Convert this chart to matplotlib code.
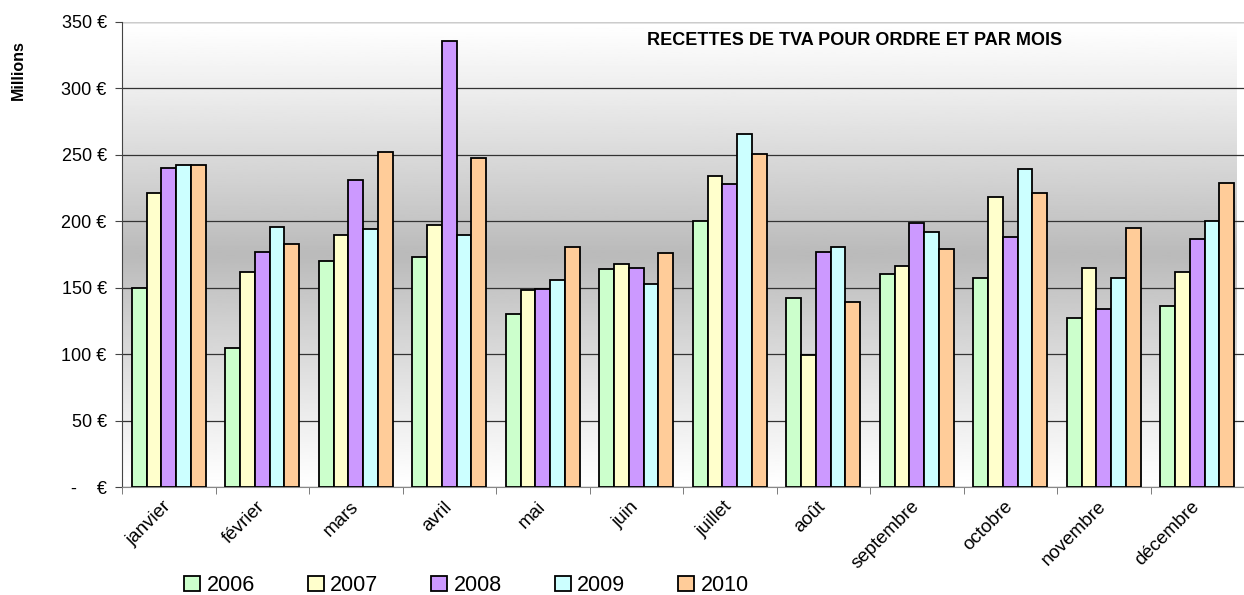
import numpy as np
import matplotlib
matplotlib.use('Agg')
import matplotlib.pyplot as plt
from matplotlib.patches import Patch
from matplotlib.transforms import ScaledTranslation

plt.rc('font', family=['Liberation Sans', 'DejaVu Sans'])

mois = ['janvier', 'février', 'mars', 'avril', 'mai', 'juin', 'juillet',
        'août', 'septembre', 'octobre', 'novembre', 'décembre']
annees = ['2006', '2007', '2008', '2009', '2010']

# millions d'euros
v2006 = [150, 105, 170, 173, 130, 164, 200, 142, 160, 157, 127, 136]
v2007 = [221, 162, 190, 197, 148, 168, 234, 99, 166, 218, 165, 162]
v2008 = [240, 177, 231, 336, 149, 165, 228, 177, 199, 188, 134, 187]
v2009 = [242, 196, 194, 190, 156, 153, 266, 181, 192, 239, 157, 200]
v2010 = [242, 183, 252, 248, 181, 176, 251, 139, 179, 221, 195, 229]
series = [v2006, v2007, v2008, v2009, v2010]

couleurs = ['#CCFFCC', '#FFFFCC', '#CC99FF', '#CCFFFF', '#FFCC99']
yticks = [0, 50, 100, 150, 200, 250, 300, 350]
ylabels = ['-    €', '50 €', '100 €', '150 €', '200 €', '250 €', '300 €', '350 €']

fig = plt.figure(figsize=(12.44, 5.95), dpi=100)
ax = fig.add_axes([122/1244, 1 - 487/595, 1 - 122/1244, (487 - 22)/595])

# fond en dégradé (blanc -> gris -> blanc)
t = np.linspace(0, 1, 256)
g = 1 - 0.27 * (1 - np.abs(2*t - 1))**1.1
ax.imshow(g[:, None], cmap='gray', vmin=0, vmax=1, aspect='auto',
          extent=[-0.5, 11.42, 0, 350], zorder=0)

x = np.arange(len(mois))
w = 0.158
for i, (vals, c) in enumerate(zip(series, couleurs)):
    ax.bar(x + (i - 2)*w, vals, w, color=c, edgecolor='black', linewidth=1.3,
           zorder=3)

ax.set_xlim(-0.5, 11.42)
ax.set_ylim(0, 350)
ax.set_yticks(yticks)
ax.set_yticklabels(ylabels, fontsize=13)
ax.yaxis.grid(True, color='#333333', linewidth=0.9, zorder=1)
ax.set_axisbelow(True)

ax.set_xticks(x)
ax.set_xticklabels(mois, rotation=45, ha='right', va='top',
                   rotation_mode='anchor', fontsize=13.5)
ax.tick_params(axis='x', length=0, pad=8)
# léger décalage vers la gauche des étiquettes
for lab in ax.get_xticklabels():
    lab.set_transform(lab.get_transform() + ScaledTranslation(-0.06, 0, fig.dpi_scale_trans))
ax.set_xticks(np.arange(-0.5, 11.6, 1), minor=True)
ax.tick_params(axis='x', which='minor', length=5, color='#666666')
ax.tick_params(axis='y', length=5, color='#444444', direction='out', pad=6)

for s in ['top', 'right']:
    ax.spines[s].set_visible(False)
ax.spines['left'].set_color('#444444')
ax.spines['bottom'].set_color('#888888')
ax.axhline(350, color='#cccccc', linewidth=1.5, zorder=2)

fig.text(0.687, 0.932, 'RECETTES DE TVA POUR ORDRE ET PAR MOIS', ha='center',
         va='center', fontsize=13, fontweight='bold')
fig.text(0.015, 0.882, 'Millions', rotation=90, ha='center', va='center',
         fontsize=11.5, fontweight='bold')

handles = [Patch(facecolor=c, edgecolor='black', linewidth=1.3) for c in couleurs]
fig.legend(handles, annees, loc='center', bbox_to_anchor=(0.375, 0.016),
           ncol=5, frameon=False, handlelength=0.75,
           handleheight=0.75, handletextpad=0.3, columnspacing=2.45,
           prop={'size': 15.5})

fig.savefig('out.png', dpi=100)
